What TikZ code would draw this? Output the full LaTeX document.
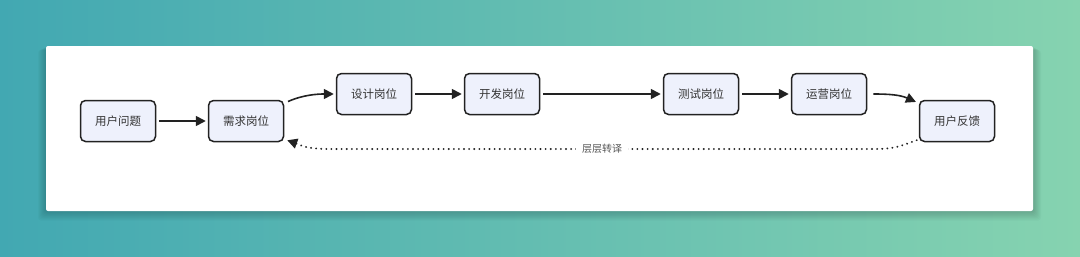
\documentclass[tikz,border=0pt]{standalone}
\usepackage{fontspec}
\setmainfont{Noto Sans CJK SC}
\usetikzlibrary{arrows.meta}

\definecolor{bgleft}{RGB}{66,168,178}
\definecolor{bgright}{RGB}{134,211,176}
\definecolor{boxfill}{RGB}{238,241,252}
\definecolor{boxline}{RGB}{34,34,34}
\definecolor{txt}{RGB}{51,51,51}
\definecolor{lbl}{RGB}{85,85,85}

\begin{document}
\begin{tikzpicture}[x=1pt,y=-1pt,
  post/.style={draw=boxline,line width=1.5pt,rounded corners=5pt,fill=boxfill,minimum width=75pt,minimum height=41pt,inner sep=0pt,text=txt,font=\fontsize{11.5}{13}\selectfont},
  link/.style={line width=1.6pt,draw=boxline,-{Triangle[length=10pt,width=10pt]},shorten <=3pt,shorten >=2pt},
  back/.style={line width=2pt,draw=boxline,line cap=round,dash pattern=on 0.1pt off 5pt,-{Triangle[length=10pt,width=10pt]}}]

\useasboundingbox (0,0) rectangle (1080,257);

%Background and card
\shade[left color=bgleft,right color=bgright] (0,0) rectangle (1080,257);
\foreach \i in {1,...,8} \fill[black,opacity=0.025,rounded corners=3pt] (46-\i,46+\i/2) rectangle (1033+\i,211+\i*1.2);
\fill[white,rounded corners=2pt] (46,46) rectangle (1033,211);

%Boxes
\node[post] (ask) at (118,121) {用户问题};
\node[post] (need) at (246,121) {需求岗位};
\node[post] (design) at (374,94) {设计岗位};
\node[post] (dev) at (502,94) {开发岗位};
\node[post] (test) at (701,94) {测试岗位};
\node[post] (ops) at (829,94) {运营岗位};
\node[post] (fb) at (957,121) {用户反馈};

%Forward arrows
\draw[link] (ask) -- (need);
\draw[link] ([shift={(1,3)}]need.north east) .. controls +(18,-8) and +(-18,0) .. (design.west);
\draw[link] (design) -- (dev);
\draw[link] (dev) -- (test);
\draw[link] (test) -- (ops);
\draw[link] ([xshift=3]ops.east) .. controls +(18,0) and +(-18,-8) .. ([shift={(-1,3)}]fb.north west);

%Feedback loop
\coordinate (loopR) at (870,149);
\coordinate (loopL) at (330,149);
\draw[back] ([shift={(-2,-2)}]fb.south west) .. controls +(-20,7) and +(25,0) .. (loopR) -- (loopL) .. controls +(-25,0) and +(14,5) .. ([shift={(3,-2)}]need.south east);
\node[fill=white,text=lbl,font=\fontsize{10}{11}\selectfont,inner xsep=6pt] (turn) at (602,149) {层层转译};

\end{tikzpicture}
\end{document}
